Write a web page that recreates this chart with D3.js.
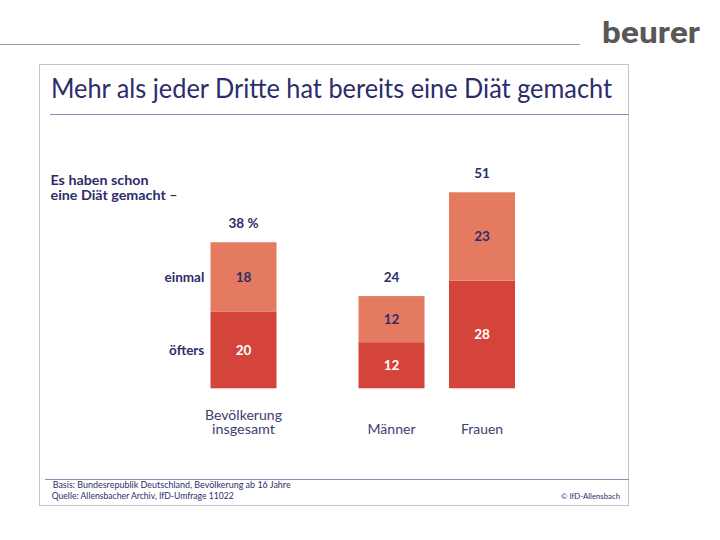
<!DOCTYPE html>
<html><head><meta charset="utf-8">
<script src="https://cdn.jsdelivr.net/npm/d3@7"></script>
<style>body{margin:0;background:#fff}svg{display:block}</style>
</head><body>
<script>
const categories = ["Bevölkerung insgesamt", "Männer", "Frauen"];
const catLines = [["Bevölkerung", "insgesamt"], ["Männer"], ["Frauen"]];
const oefters = [20, 12, 28];
const einmal = [18, 12, 23];
const totals = ["38 %", "24", "51"];
const seriesNames = ["öfters", "einmal"];
const title = "Mehr als jeder Dritte hat bereits eine Diät gemacht";
const subtitle = ["Es haben schon", "eine Diät gemacht –"];
const footer = ["Basis: Bundesrepublik Deutschland, Bevölkerung ab 16 Jahre", "Quelle: Allensbacher Archiv, IfD-Umfrage 11022"];
const credit = "© IfD-Allensbach";

const W = 720, H = 540;
const navy = "#2c2d6b", darkC = "#d5443a", lightC = "#e47a60";
const font = "Lato, 'Open Sans', sans-serif";
const svg = d3.select("body").append("svg").attr("width", W).attr("height", H);

// header
svg.append("line").attr("x1", 0).attr("x2", 580).attr("y1", 44.5).attr("y2", 44.5).attr("stroke", "#9a9a9a").attr("stroke-width", 1);
svg.append("text").attr("x", 602).attr("y", 43).attr("font-family", "Roboto, sans-serif").attr("font-weight", 700)
  .attr("font-size", 30).attr("fill", "#585858").attr("textLength", 98).attr("lengthAdjust", "spacingAndGlyphs").text("beurer");

// frame
svg.append("rect").attr("x", 39.5).attr("y", 64.5).attr("width", 589).attr("height", 441).attr("fill", "none").attr("stroke", "#c4c4cc").attr("stroke-width", 1);
svg.append("text").attr("x", 51).attr("y", 98).attr("font-family", font).attr("font-size", 26).attr("fill", navy)
  .attr("textLength", 561).attr("lengthAdjust", "spacingAndGlyphs").text(title);
svg.append("line").attr("x1", 50).attr("x2", 629).attr("y1", 114.5).attr("y2", 114.5).attr("stroke", "#8c8fb4").attr("stroke-width", 1.2);
svg.append("line").attr("x1", 45).attr("x2", 629).attr("y1", 479.5).attr("y2", 479.5).attr("stroke", "#8c8fb4").attr("stroke-width", 1);

// footer
svg.append("text").attr("x", 52.7).attr("y", 488).attr("font-family", font).attr("font-size", 8.5).attr("fill", navy)
  .attr("textLength", 238).attr("lengthAdjust", "spacingAndGlyphs").text(footer[0]);
svg.append("text").attr("x", 51.7).attr("y", 498.5).attr("font-family", font).attr("font-size", 8.5).attr("fill", navy)
  .attr("textLength", 182).attr("lengthAdjust", "spacingAndGlyphs").text(footer[1]);
svg.append("text").attr("x", 561).attr("y", 499).attr("font-family", font).attr("font-size", 8).attr("fill", navy)
  .attr("textLength", 59).attr("lengthAdjust", "spacingAndGlyphs").text(credit);

// subtitle
const subW = [98, 127];
subtitle.forEach((t, i) => svg.append("text").attr("x", 50.5).attr("y", 184.5 + i * 15).attr("font-family", font).attr("font-weight", 700)
  .attr("font-size", 12.5).attr("fill", navy).attr("textLength", subW[i]).attr("lengthAdjust", "spacingAndGlyphs").text(t));

// scales
const x = d3.scaleOrdinal().domain(categories).range([210.5, 358.5, 449]);
const bw = 66;
const y = d3.scaleLinear().domain([0, 51]).range([388.3, 192.3]);

const stacked = d3.stack().keys(seriesNames)(categories.map((c, i) => ({cat: c, "öfters": oefters[i], "einmal": einmal[i]})));
const colors = [darkC, lightC];
const textCol = ["#fff", navy];

stacked.forEach((layer, li) => {
  const g = svg.append("g");
  g.selectAll("rect").data(layer).join("rect")
    .attr("x", d => x(d.data.cat)).attr("width", bw)
    .attr("y", d => y(d[1])).attr("height", d => y(d[0]) - y(d[1]))
    .attr("fill", colors[li]);
  g.selectAll("text").data(layer).join("text")
    .attr("x", d => x(d.data.cat) + bw / 2).attr("y", d => (y(d[0]) + y(d[1])) / 2 + 5)
    .attr("text-anchor", "middle").attr("font-family", font).attr("font-weight", 700).attr("font-size", 13.5)
    .attr("fill", textCol[li]).text(d => d[1] - d[0]);
  const d0 = layer[0];
  svg.append("text").attr("x", 204.3).attr("y", (y(d0[0]) + y(d0[1])) / 2 + 5).attr("text-anchor", "end")
    .attr("font-family", font).attr("font-weight", 700).attr("font-size", 13.5).attr("fill", navy).text(seriesNames[li]);
});

// totals
const topLayer = stacked[1];
svg.selectAll(".tot").data(topLayer).join("text").attr("class", "tot")
  .attr("x", d => x(d.data.cat) + bw / 2).attr("y", d => y(d[1]) - 14)
  .attr("text-anchor", "middle").attr("font-family", font).attr("font-weight", 700).attr("font-size", 13.5)
  .attr("fill", navy).text((d, i) => totals[i]);

// category labels
const catW = [[77, 63], [48], [42]];
categories.forEach((c, i) => {
  const lines = catLines[i];
  const y0 = lines.length === 2 ? 420 : 434;
  lines.forEach((l, j) => svg.append("text").attr("x", x(c) + bw / 2 - catW[i][j] / 2).attr("y", y0 + j * 14)
    .attr("font-family", font).attr("font-size", 12.5).attr("fill", "#3d3f72")
    .attr("textLength", catW[i][j]).attr("lengthAdjust", "spacingAndGlyphs").text(l));
});
</script>
</body></html>
